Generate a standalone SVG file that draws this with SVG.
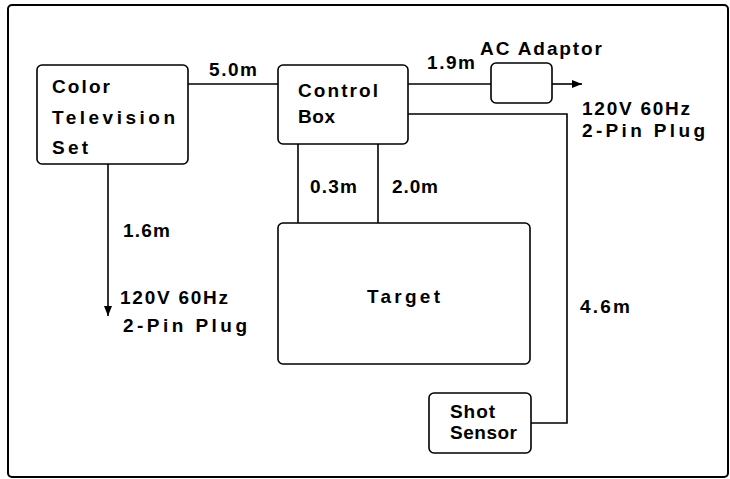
<svg xmlns="http://www.w3.org/2000/svg" width="730" height="479" viewBox="0 0 730 479">
<defs>
<style>
.box{fill:#fff;stroke:#000;stroke-width:1.6}
.ln{fill:none;stroke:#000;stroke-width:1.6}
text{font-family:"Liberation Sans Narrow","Liberation Sans",Arial,sans-serif;font-weight:bold;font-size:19px;fill:#000}
</style>
<marker id="arr" viewBox="0 0 10 10" refX="10" refY="5" markerWidth="10" markerHeight="10" markerUnits="userSpaceOnUse" orient="auto">
<path d="M0,1 L10,5 L0,9 Z" fill="#000"/>
</marker>
</defs>
<rect width="730" height="479" fill="#fff"/>
<rect x="8" y="5" width="720" height="472" rx="4" fill="none" stroke="#000" stroke-width="2"/>
<g id="connectors">
<line class="ln" x1="188" y1="84" x2="278" y2="84"/>
<line class="ln" x1="408" y1="84" x2="491" y2="84"/>
<line class="ln" x1="552" y1="84" x2="582" y2="84" marker-end="url(#arr)"/>
<polyline class="ln" points="408,114 567,114 567,423 531,423"/>
<line class="ln" x1="298" y1="144" x2="298" y2="223"/>
<line class="ln" x1="378" y1="144" x2="378" y2="223"/>
<line class="ln" x1="108" y1="164" x2="108" y2="316" marker-end="url(#arr)"/>
<text x="209" y="76" textLength="48" lengthAdjust="spacing">5.0m</text>
<text x="427" y="69" textLength="48" lengthAdjust="spacing">1.9m</text>
<text x="310" y="193" textLength="47" lengthAdjust="spacing">0.3m</text>
<text x="392" y="193" textLength="46" lengthAdjust="spacing">2.0m</text>
<text x="123" y="237" textLength="47" lengthAdjust="spacing">1.6m</text>
<text x="580" y="313" textLength="50" lengthAdjust="spacing">4.6m</text>
<text x="120" y="304" textLength="108" lengthAdjust="spacing">120V 60Hz</text>
<text x="123" y="332" textLength="124" lengthAdjust="spacing">2-Pin Plug</text>
<text x="582" y="115" textLength="108" lengthAdjust="spacing">120V 60Hz</text>
<text x="582" y="137" textLength="123" lengthAdjust="spacing">2-Pin Plug</text>
</g>
<g id="tv">
<rect class="box" x="37" y="65" width="151" height="99" rx="5"/>
<text x="52" y="93" textLength="58" lengthAdjust="spacing">Color</text>
<text x="52" y="124" textLength="123" lengthAdjust="spacing">Television</text>
<text x="52" y="154" textLength="36" lengthAdjust="spacing">Set</text>
</g>
<g id="control">
<rect class="box" x="278" y="65" width="130" height="79" rx="5"/>
<text x="298" y="97" textLength="80" lengthAdjust="spacing">Control</text>
<text x="298" y="123" textLength="37" lengthAdjust="spacing">Box</text>
</g>
<g id="adaptor">
<rect class="box" x="491" y="63" width="61" height="40" rx="5"/>
<text x="480" y="55" textLength="122" lengthAdjust="spacing">AC Adaptor</text>
</g>
<g id="target">
<rect class="box" x="278" y="223" width="252" height="141" rx="5"/>
<text x="367" y="303" textLength="73" lengthAdjust="spacing">Target</text>
</g>
<g id="sensor">
<rect class="box" x="429" y="393" width="102" height="60" rx="5"/>
<text x="450" y="418" textLength="45" lengthAdjust="spacing">Shot</text>
<text x="450" y="439" textLength="67" lengthAdjust="spacing">Sensor</text>
</g>
</svg>
